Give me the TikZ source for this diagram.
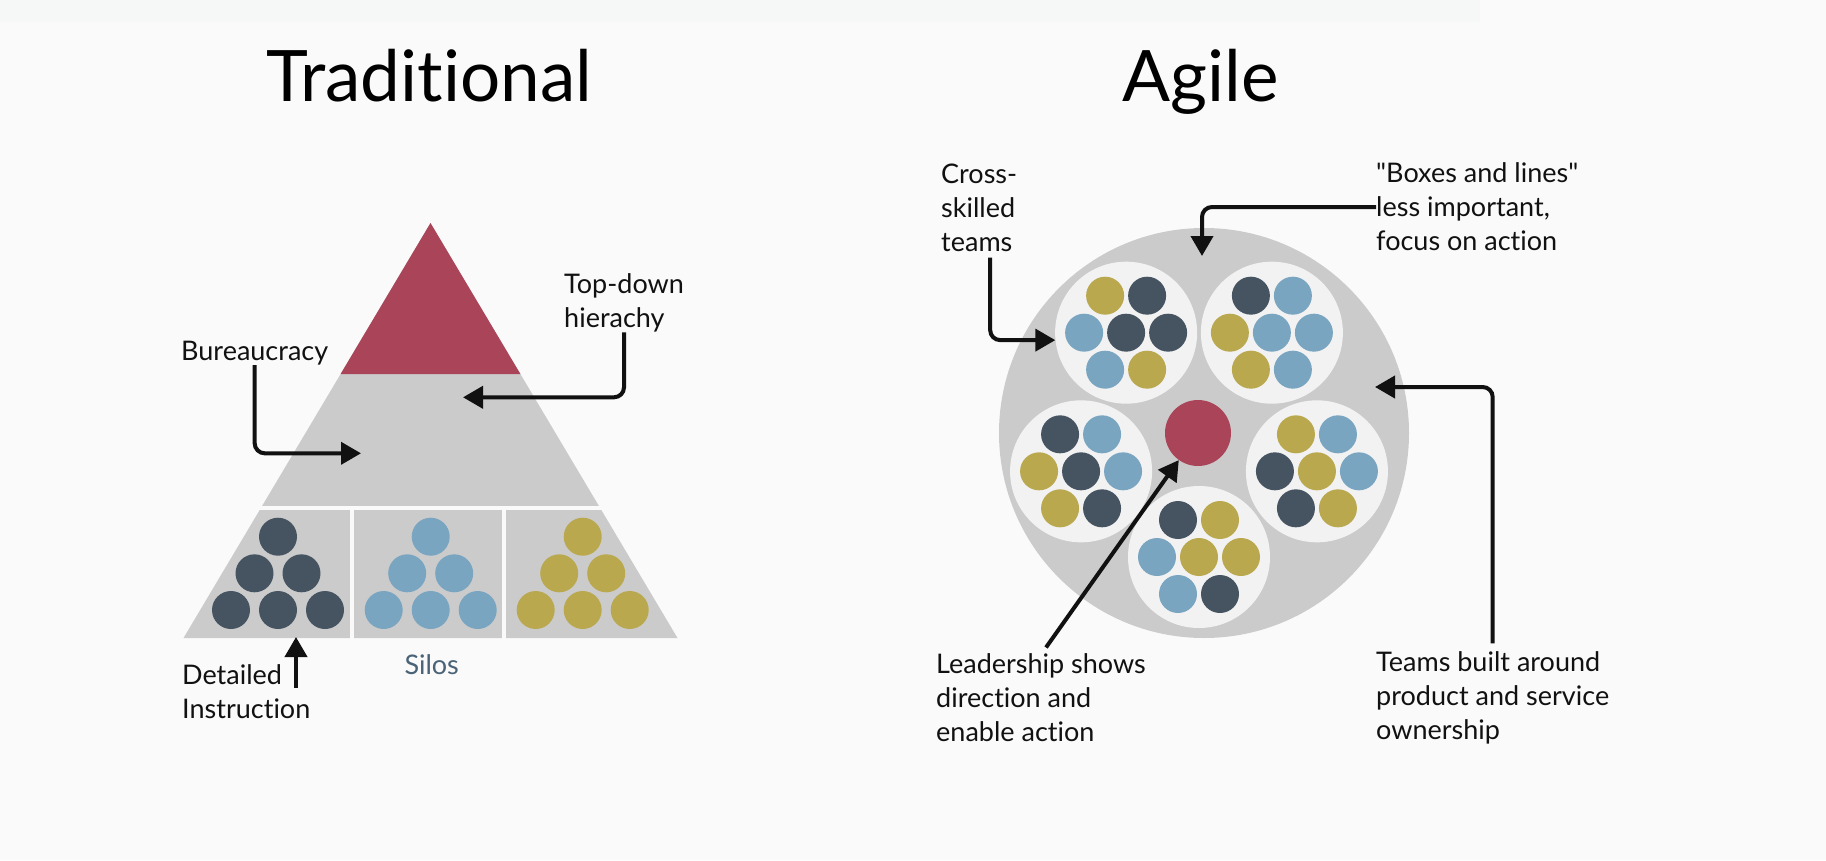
\documentclass[tikz,border=0pt]{standalone}
\usepackage{fontspec}
\setmainfont{Lato}[Ligatures={TeXOff,CommonOff}]
\usetikzlibrary{arrows.meta,calc}

\definecolor{bgcol}{HTML}{FAFAFA}
\definecolor{bandcol}{HTML}{F6F8F7}
\definecolor{pyrred}{HTML}{AA4459}
\definecolor{pyrgray}{HTML}{CBCBCB}
\definecolor{teamcol}{HTML}{F2F2F2}
\definecolor{dk}{HTML}{465462}
\definecolor{bl}{HTML}{79A5C1}
\definecolor{gd}{HTML}{B9A84E}
\definecolor{silocol}{HTML}{4A6377}
\definecolor{ink}{HTML}{111111}

\begin{document}
\begin{tikzpicture}[x=1pt,y=-1pt,
    title/.style={font=\fontsize{71}{80}\selectfont, inner sep=0, text=black},
    lbl/.style={font=\fontsize{27}{34}\selectfont, align=left, inner sep=0, anchor=west, text=ink},
    arr/.style={line width=4pt, draw=ink, rounded corners=10pt, -{Triangle[length=20pt,width=22pt]}}]
    \fill[bgcol] (0,0) rectangle (1826,860);
    \fill[bandcol] (0,0) rectangle (1480,22);
    \useasboundingbox (0,0) rectangle (1826,860);

    % titles
    \node[title, anchor=base] (trad) at (429,101) {Traditional};
    \node[title, anchor=base] (agile) at (1201,101) {Agile};

    % pyramid
    \fill[pyrgray] (430.5,223) -- (677.5,638) -- (183.5,638) -- cycle;
    \fill[pyrred] (430.5,223) -- (520.4,374) -- (340.6,374) -- cycle;
    \draw[bgcol, line width=4pt] (150,508) -- (710,508);
    \draw[bgcol, line width=4pt] (352,508) -- (352,640);
    \draw[bgcol, line width=4pt] (504,508) -- (504,640);
    \foreach \cx/\c in {278/dk, 430.7/bl, 582.7/gd}
        \foreach \dx/\dy in {0/0, -23.5/36.6, 23.5/36.6, -47/73.3, 0/73.3, 47/73.3}
            \fill[\c] (\cx+\dx, 536.7+\dy) circle (19);

    % agile circle
    \fill[pyrgray] (1204,433) circle (205);
    \foreach \ang/\cols [count=\t] in {-126/{gd,dk,bl,dk,dk,bl,gd}, -54/{dk,bl,gd,bl,bl,gd,bl},
            162/{dk,bl,gd,dk,bl,gd,dk}, 18/{gd,bl,dk,gd,bl,dk,gd}, 90/{dk,gd,bl,gd,gd,bl,dk}} {
        \node[circle, fill=teamcol, minimum size=142pt, inner sep=0] (team\t) at ($(1199,433)+(\ang:124)$) {};
        \foreach \c [count=\i] in \cols {
            \pgfmathsetmacro\dx{{-21,21,-42,0,42,-21,21}[\i-1]}
            \pgfmathsetmacro\dy{{-37,-37,0,0,0,37,37}[\i-1]}
            \fill[\c] ($(team\t)+(\dx,\dy)$) circle (19);
        }
    }
    \node[circle, fill=pyrred, minimum size=66pt, inner sep=0] (lead) at (1198,433) {};

    % labels
    \node[lbl] (bur) at (181,353) {Bureaucracy};
    \node[lbl] (td) at (564,303) {Top-down\\hierachy};
    \node[lbl] (di) at (182,691.5) {Detailed\\Instruction};
    \node[font=\fontsize{27}{34}\selectfont, inner sep=0, text=silocol] (silo) at (431.7,664.3) {Silos};
    \node[lbl] (cs) at (941,207.5) {Cross-\\skilled\\teams};
    \node[lbl] (boxes) at (1376,207) {"Boxes and lines"\\less important,\\focus on action};
    \node[lbl] (ls) at (936,697.7) {Leadership shows\\direction and\\enable action};
    \node[lbl] (tb) at (1376,697.7) {Teams built around\\product and service\\ownership};

    % arrows
    \coordinate (burT) at (361,453.3);
    \coordinate (tdT) at (463,397.3);
    \coordinate (diS) at (296,688);
    \coordinate (diT) at (296,637);
    \coordinate (boxT) at (1202,256);
    \coordinate (tbT) at (1375,387);
    \draw[arr] (bur.south) |- (burT);
    \draw[arr] (td.south) |- (tdT);
    \draw[arr] (diS) -- (diT);
    \draw[arr] ($(cs.south)+(11,6)$) |- (team1.186);
    \draw[arr] (boxes.west) -| (boxT);
    \draw[arr] ($(tb.north)+(0,-8)$) |- (tbT);
    \draw[arr] ($(ls.north)+(5,-6)$) -- (lead);
\end{tikzpicture}
\end{document}
